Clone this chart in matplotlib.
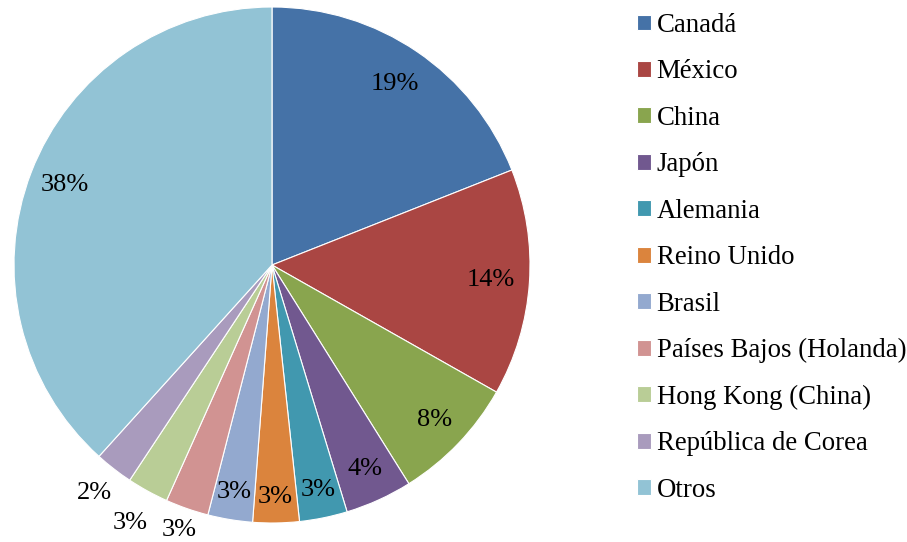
import matplotlib.pyplot as plt
import numpy as np

plt.rcParams['font.family'] = ['Liberation Serif', 'DejaVu Serif']

countries = ["Canadá", "México", "China", "Japón", "Alemania", "Reino Unido", "Brasil",
             "Países Bajos (Holanda)", "Hong Kong (China)", "República de Corea", "Otros"]
shares = [19.0, 14.2, 7.9, 4.2, 3.0, 2.9, 2.8, 2.7, 2.6, 2.4, 38.3]
pct_labels = ["19%", "14%", "8%", "4%", "3%", "3%", "3%", "3%", "3%", "2%", "38%"]
colors = ["#4572A7", "#AA4643", "#89A54E", "#71588F", "#4198AF", "#DB843D",
          "#93A9CF", "#D19392", "#B9CD96", "#A99BBD", "#92C3D5"]
# radial position of each percentage label (fraction of radius)
label_r = [0.85, 0.85, 0.87, 0.87, 0.89, 0.90, 0.89, 1.09, 1.14, 1.12, 0.86]

fig = plt.figure(figsize=(9.07, 5.42), dpi=100)
W, H = 907, 542
cx, cy, R = 272, 265, 258
ax = fig.add_axes([(cx - R) / W, (H - cy - R) / H, 2 * R / W, 2 * R / H])

wedges, _ = ax.pie(shares, colors=colors, startangle=90, counterclock=False,
                   wedgeprops=dict(edgecolor="white", linewidth=0.8))
ax.set_aspect("equal")
ax.set_xlim(-1, 1)
ax.set_ylim(-1, 1)

for w, lab, r in zip(wedges, pct_labels, label_r):
    mid = np.deg2rad((w.theta1 + w.theta2) / 2)
    ax.text(r * np.cos(mid), r * np.sin(mid), lab, ha="center", va="center",
            fontsize=19, color="black", clip_on=False)

leg = fig.legend(wedges, countries, loc="upper left", bbox_to_anchor=(637 / W, 1 - 13 / H),
                 frameon=False, fontsize=19.3, handlelength=0.53, handleheight=0.53,
                 handletextpad=0.2, labelspacing=0.80, borderaxespad=0, borderpad=0)

fig.savefig("out.png", dpi=100)
